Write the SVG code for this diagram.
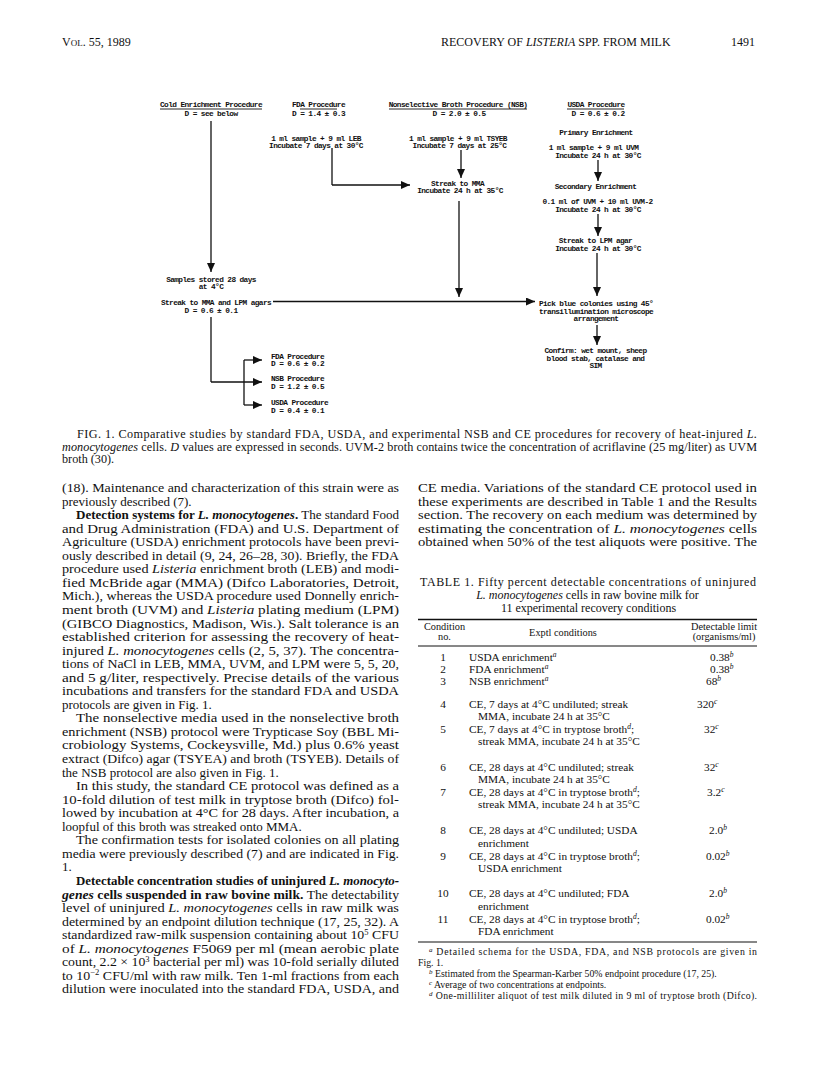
<svg xmlns="http://www.w3.org/2000/svg" width="816" height="1081" viewBox="0 0 816 1081">
<style>
.bg{fill:#fff}
.d{font-family:"Liberation Mono","DejaVu Sans Mono",monospace;font-weight:bold;font-size:7.8px;letter-spacing:-0.6px;fill:#111;text-anchor:middle}
.dl{text-anchor:start}
.ul{stroke:#111;stroke-width:0.9}
.c{stroke:#111;stroke-width:1.3;fill:none}
.ca{stroke:#111;stroke-width:1.3;fill:none;marker-end:url(#ah)}
.t{font-family:"Liberation Serif","Times New Roman",serif;font-size:13px;fill:#111}
.cap{font-family:"Liberation Serif","Times New Roman",serif;font-size:12.2px;fill:#111}
.tb{font-family:"Liberation Serif","Times New Roman",serif;font-size:11.3px;fill:#111}
.tt{font-family:"Liberation Serif","Times New Roman",serif;font-size:12px;fill:#111}
.th{font-family:"Liberation Serif","Times New Roman",serif;font-size:10.3px;fill:#111;text-anchor:middle}
.fn{font-family:"Liberation Serif","Times New Roman",serif;font-size:9.8px;fill:#111}
.hd{font-family:"Liberation Serif","Times New Roman",serif;font-size:12px;fill:#111}
.i{font-style:italic}
.bd{font-weight:bold}
.rule{stroke:#111}
</style>
<defs>
<marker id="ah" markerUnits="userSpaceOnUse" markerWidth="10" markerHeight="9" refX="9" refY="4" orient="auto">
<path d="M0,0 L9,4 L0,8 z" fill="#111"/>
</marker>
</defs>
<rect class="bg" x="0" y="0" width="816" height="1081"/>

<!-- running head -->
<g id="header">
<text class="hd" x="62" y="46">V<tspan font-size="9px">OL</tspan>. 55, 1989</text>
<text class="hd" x="441" y="46">RECOVERY OF <tspan class="i">LISTERIA</tspan> SPP. FROM MILK</text>
<text class="hd" x="731" y="46">1491</text>
</g>

<!-- connectors -->
<g id="connectors">
<path class="ca" d="M211,121 V272"/>
<path class="c" d="M211,317 V382"/>
<path class="ca" d="M211,382 H262"/>
<path class="c" d="M244,360 V405"/>
<path class="ca" d="M244,360 H262"/>
<path class="ca" d="M244,405 H262"/>
<path class="c" d="M332,148 V185"/>
<path class="ca" d="M332,185 H410"/>
<path class="ca" d="M461,150 V178"/>
<path class="ca" d="M459,201 V297"/>
<path class="ca" d="M273,301.5 H535"/>
<path class="ca" d="M598,160 V181"/>
<path class="ca" d="M598,214 V236"/>
<path class="ca" d="M597,253 V296"/>
<path class="ca" d="M597,325 V345"/>
</g>

<!-- diagram nodes -->
<g id="ce-title">
<text class="d" x="211" y="106.5">Cold Enrichment Procedure</text>
<line class="ul" x1="160" y1="109" x2="262" y2="109"/>
<text class="d" x="211" y="116">D = see below</text>
</g>
<g id="fda-title">
<text class="d" x="318.5" y="106.5">FDA Procedure</text>
<line class="ul" x1="300" y1="109" x2="337" y2="109"/>
<text class="d" x="318.5" y="116">D = 1.4 ± 0.3</text>
</g>
<g id="fda-step1">
<text class="d" x="316" y="140.5">1 ml sample + 9 ml LEB</text>
<text class="d" x="316" y="147.5">Incubate 7 days at 30°C</text>
</g>
<g id="nsb-title">
<text class="d" x="458" y="106.5">Nonselective Broth Procedure (NSB)</text>
<line class="ul" x1="389" y1="109" x2="527" y2="109"/>
<text class="d" x="459" y="116">D = 2.0 ± 0.5</text>
</g>
<g id="nsb-step1">
<text class="d" x="458" y="140.5">1 ml sample + 9 ml TSYEB</text>
<text class="d" x="459.5" y="147.5">Incubate 7 days at 25°C</text>
</g>
<g id="streak-mma">
<text class="d" x="457.5" y="185.5">Streak to MMA</text>
<text class="d" x="460" y="192.5">Incubate 24 h at 35°C</text>
</g>
<g id="usda-title">
<text class="d" x="596" y="106.5">USDA Procedure</text>
<line class="ul" x1="567" y1="109" x2="624" y2="109"/>
<text class="d" x="598" y="116">D = 0.6 ± 0.2</text>
</g>
<g id="usda-primary">
<text class="d" x="596" y="135">Primary Enrichment</text>
<text class="d" x="593.5" y="150">1 ml sample + 9 ml UVM</text>
<text class="d" x="598" y="157.5">Incubate 24 h at 30°C</text>
</g>
<g id="usda-secondary">
<text class="d" x="595.5" y="189">Secondary Enrichment</text>
<text class="d" x="597.5" y="204">0.1 ml of UVM + 10 ml UVM-2</text>
<text class="d" x="598" y="211.5">Incubate 24 h at 30°C</text>
</g>
<g id="streak-lpm">
<text class="d" x="595.5" y="243">Streak to LPM agar</text>
<text class="d" x="598" y="251">Incubate 24 h at 30°C</text>
</g>
<g id="ce-stored">
<text class="d" x="211" y="282">Samples stored 28 days</text>
<text class="d" x="211" y="289">at 4°C</text>
</g>
<g id="ce-streak">
<text class="d" x="216" y="304.5">Streak to MMA and LPM agars</text>
<text class="d" x="211" y="312.5">D = 0.6 ± 0.1</text>
</g>
<g id="pick">
<text class="d" x="596" y="305.5">Pick blue colonies using 45°</text>
<text class="d" x="596" y="313.5">transillumination microscope</text>
<text class="d" x="596" y="321">arrangement</text>
</g>
<g id="confirm">
<text class="d" x="595.5" y="352.5">Confirm:  wet mount, sheep</text>
<text class="d" x="595.5" y="360.5">blood stab, catalase and</text>
<text class="d" x="595.5" y="367.5">SIM</text>
</g>
<g id="ce-fda">
<text class="d dl" x="271" y="358.5">FDA Procedure</text>
<text class="d dl" x="271" y="366">D = 0.6 ± 0.2</text>
</g>
<g id="ce-nsb">
<text class="d dl" x="271" y="381">NSB Procedure</text>
<text class="d dl" x="271" y="389">D = 1.2 ± 0.5</text>
</g>
<g id="ce-usda">
<text class="d dl" x="271" y="404.5">USDA Procedure</text>
<text class="d dl" x="271" y="413">D = 0.4 ± 0.1</text>
</g>

<!-- caption -->
<text class="cap" x="77" y="438" textLength="680" lengthAdjust="spacing">FIG. 1. Comparative studies by standard FDA, USDA, and experimental NSB and CE procedures for recovery of heat-injured <tspan class="i">L.</tspan></text>
<text class="cap" x="62" y="450.5" textLength="695" lengthAdjust="spacing"><tspan class="i">monocytogenes</tspan> cells. <tspan class="i">D</tspan> values are expressed in seconds. UVM-2 broth contains twice the concentration of acriflavine (25 mg/liter) as UVM</text>
<text class="cap" x="62" y="463">broth (30).</text>

<!-- left column -->
<g id="left-column">
<text class="t" x="62" y="492" textLength="337" lengthAdjust="spacingAndGlyphs">(18). Maintenance and characterization of this strain were as</text>
<text class="t" x="62" y="505.5">previously described (7).</text>
<text class="t" x="76" y="519.1" textLength="323" lengthAdjust="spacingAndGlyphs"><tspan class="bd">Detection systems for <tspan class="i">L. monocytogenes</tspan>.</tspan> The standard Food</text>
<text class="t" x="62" y="532.6" textLength="337" lengthAdjust="spacingAndGlyphs">and Drug Administration (FDA) and U.S. Department of</text>
<text class="t" x="62" y="546.2" textLength="337" lengthAdjust="spacingAndGlyphs">Agriculture (USDA) enrichment protocols have been previ-</text>
<text class="t" x="62" y="559.7" textLength="337" lengthAdjust="spacingAndGlyphs">ously described in detail (9, 24, 26–28, 30). Briefly, the FDA</text>
<text class="t" x="62" y="573.3" textLength="337" lengthAdjust="spacingAndGlyphs">procedure used <tspan class="i">Listeria</tspan> enrichment broth (LEB) and modi-</text>
<text class="t" x="62" y="586.8" textLength="337" lengthAdjust="spacingAndGlyphs">fied McBride agar (MMA) (Difco Laboratories, Detroit,</text>
<text class="t" x="62" y="600.4" textLength="337" lengthAdjust="spacingAndGlyphs">Mich.), whereas the USDA procedure used Donnelly enrich-</text>
<text class="t" x="62" y="613.9" textLength="337" lengthAdjust="spacingAndGlyphs">ment broth (UVM) and <tspan class="i">Listeria</tspan> plating medium (LPM)</text>
<text class="t" x="62" y="627.5" textLength="337" lengthAdjust="spacingAndGlyphs">(GIBCO Diagnostics, Madison, Wis.). Salt tolerance is an</text>
<text class="t" x="62" y="641" textLength="337" lengthAdjust="spacingAndGlyphs">established criterion for assessing the recovery of heat-</text>
<text class="t" x="62" y="654.6" textLength="337" lengthAdjust="spacingAndGlyphs">injured <tspan class="i">L. monocytogenes</tspan> cells (2, 5, 37). The concentra-</text>
<text class="t" x="62" y="668.1" textLength="337" lengthAdjust="spacingAndGlyphs">tions of NaCl in LEB, MMA, UVM, and LPM were 5, 5, 20,</text>
<text class="t" x="62" y="681.7" textLength="337" lengthAdjust="spacingAndGlyphs">and 5 g/liter, respectively. Precise details of the various</text>
<text class="t" x="62" y="695.2" textLength="337" lengthAdjust="spacingAndGlyphs">incubations and transfers for the standard FDA and USDA</text>
<text class="t" x="62" y="708.8">protocols are given in Fig. 1.</text>
<text class="t" x="76" y="722.3" textLength="323" lengthAdjust="spacingAndGlyphs">The nonselective media used in the nonselective broth</text>
<text class="t" x="62" y="735.9" textLength="337" lengthAdjust="spacingAndGlyphs">enrichment (NSB) protocol were Trypticase Soy (BBL Mi-</text>
<text class="t" x="62" y="749.4" textLength="337" lengthAdjust="spacingAndGlyphs">crobiology Systems, Cockeysville, Md.) plus 0.6% yeast</text>
<text class="t" x="62" y="763" textLength="337" lengthAdjust="spacingAndGlyphs">extract (Difco) agar (TSYEA) and broth (TSYEB). Details of</text>
<text class="t" x="62" y="776.5">the NSB protocol are also given in Fig. 1.</text>
<text class="t" x="76" y="790.1" textLength="323" lengthAdjust="spacingAndGlyphs">In this study, the standard CE protocol was defined as a</text>
<text class="t" x="62" y="803.6" textLength="337" lengthAdjust="spacingAndGlyphs">10-fold dilution of test milk in tryptose broth (Difco) fol-</text>
<text class="t" x="62" y="817.2" textLength="337" lengthAdjust="spacingAndGlyphs">lowed by incubation at 4°C for 28 days. After incubation, a</text>
<text class="t" x="62" y="830.7">loopful of this broth was streaked onto MMA.</text>
<text class="t" x="76" y="844.3" textLength="323" lengthAdjust="spacingAndGlyphs">The confirmation tests for isolated colonies on all plating</text>
<text class="t" x="62" y="857.8" textLength="337" lengthAdjust="spacingAndGlyphs">media were previously described (7) and are indicated in Fig.</text>
<text class="t" x="62" y="871.4">1.</text>
<text class="t" x="76" y="884.9" textLength="323" lengthAdjust="spacingAndGlyphs"><tspan class="bd">Detectable concentration studies of uninjured <tspan class="i">L. monocyto-</tspan></tspan></text>
<text class="t" x="62" y="898.5" textLength="337" lengthAdjust="spacingAndGlyphs"><tspan class="bd"><tspan class="i">genes</tspan> cells suspended in raw bovine milk.</tspan> The detectability</text>
<text class="t" x="62" y="912" textLength="337" lengthAdjust="spacingAndGlyphs">level of uninjured <tspan class="i">L. monocytogenes</tspan> cells in raw milk was</text>
<text class="t" x="62" y="925.6" textLength="337" lengthAdjust="spacingAndGlyphs">determined by an endpoint dilution technique (17, 25, 32). A</text>
<text class="t" x="62" y="939.1" textLength="337" lengthAdjust="spacingAndGlyphs">standardized raw-milk suspension containing about 10<tspan font-size="8px" dy="-4.5">5</tspan><tspan dy="4.5"> CFU</tspan></text>
<text class="t" x="62" y="952.7" textLength="337" lengthAdjust="spacingAndGlyphs">of <tspan class="i">L. monocytogenes</tspan> F5069 per ml (mean aerobic plate</text>
<text class="t" x="62" y="966.2" textLength="337" lengthAdjust="spacingAndGlyphs">count, 2.2 × 10<tspan font-size="8px" dy="-4.5">3</tspan><tspan dy="4.5"> bacterial per ml) was 10-fold serially diluted</tspan></text>
<text class="t" x="62" y="979.8" textLength="337" lengthAdjust="spacingAndGlyphs">to 10<tspan font-size="8px" dy="-4.5">−2</tspan><tspan dy="4.5"> CFU/ml with raw milk. Ten 1-ml fractions from each</tspan></text>
<text class="t" x="62" y="993.3" textLength="337" lengthAdjust="spacingAndGlyphs">dilution were inoculated into the standard FDA, USDA, and</text>
</g>

<!-- right column -->
<g id="right-column">
<text class="t" x="418" y="492" textLength="339" lengthAdjust="spacingAndGlyphs">CE media. Variations of the standard CE protocol used in</text>
<text class="t" x="418" y="505.5" textLength="339" lengthAdjust="spacingAndGlyphs">these experiments are described in Table 1 and the Results</text>
<text class="t" x="418" y="519.1" textLength="339" lengthAdjust="spacingAndGlyphs">section. The recovery on each medium was determined by</text>
<text class="t" x="418" y="532.6" textLength="339" lengthAdjust="spacingAndGlyphs">estimating the concentration of <tspan class="i">L. monocytogenes</tspan> cells</text>
<text class="t" x="418" y="546.2" textLength="339" lengthAdjust="spacingAndGlyphs">obtained when 50% of the test aliquots were positive. The</text>
</g>

<!-- table -->
<g id="table1">
<text class="tt" x="420" y="586" textLength="336" lengthAdjust="spacing">TABLE 1. Fifty percent detectable concentrations of uninjured</text>
<text class="tt" x="587.5" y="599" text-anchor="middle"><tspan class="i">L. monocytogenes</tspan> cells in raw bovine milk for</text>
<text class="tt" x="588.5" y="612" text-anchor="middle">11 experimental recovery conditions</text>
<line class="rule" x1="418" y1="619.5" x2="757" y2="619.5" stroke-width="1.6"/>
<text class="th" x="444.5" y="630">Condition</text>
<text class="th" x="444.5" y="640">no.</text>
<text class="th" x="563" y="635.5">Exptl conditions</text>
<text class="th" x="724" y="630">Detectable limit</text>
<text class="th" x="724" y="640">(organisms/ml)</text>
<line class="rule" x1="418" y1="646" x2="757" y2="646" stroke-width="1"/>

<g class="tb">
<text x="443" y="661" text-anchor="middle">1</text>
<text x="469" y="661">USDA enrichment<tspan class="i" font-size="7.5px" dy="-4">a</tspan></text>
<text x="710" y="661">0.38<tspan class="i" font-size="7.5px" dy="-4">b</tspan></text>
<text x="443" y="673" text-anchor="middle">2</text>
<text x="469" y="673">FDA enrichment<tspan class="i" font-size="7.5px" dy="-4">a</tspan></text>
<text x="710" y="673">0.38<tspan class="i" font-size="7.5px" dy="-4">b</tspan></text>
<text x="443" y="685" text-anchor="middle">3</text>
<text x="469" y="685">NSB enrichment<tspan class="i" font-size="7.5px" dy="-4">a</tspan></text>
<text x="706" y="685">68<tspan class="i" font-size="7.5px" dy="-4">b</tspan></text>

<text x="443" y="708" text-anchor="middle">4</text>
<text x="469" y="708">CE, 7 days at 4°C undiluted; streak</text>
<text x="478" y="720">MMA, incubate 24 h at 35°C</text>
<text x="697" y="708">320<tspan class="i" font-size="7.5px" dy="-4">c</tspan></text>
<text x="443" y="733" text-anchor="middle">5</text>
<text x="469" y="733">CE, 7 days at 4°C in tryptose broth<tspan class="i" font-size="7.5px" dy="-4">d</tspan><tspan dy="4">;</tspan></text>
<text x="478" y="745">streak MMA, incubate 24 h at 35°C</text>
<text x="704" y="733">32<tspan class="i" font-size="7.5px" dy="-4">c</tspan></text>

<text x="443" y="771" text-anchor="middle">6</text>
<text x="469" y="771">CE, 28 days at 4°C undiluted; streak</text>
<text x="478" y="783">MMA, incubate 24 h at 35°C</text>
<text x="704" y="771">32<tspan class="i" font-size="7.5px" dy="-4">c</tspan></text>
<text x="443" y="796" text-anchor="middle">7</text>
<text x="469" y="796">CE, 28 days at 4°C in tryptose broth<tspan class="i" font-size="7.5px" dy="-4">d</tspan><tspan dy="4">;</tspan></text>
<text x="478" y="808">streak MMA, incubate 24 h at 35°C</text>
<text x="707" y="796">3.2<tspan class="i" font-size="7.5px" dy="-4">c</tspan></text>

<text x="443" y="834" text-anchor="middle">8</text>
<text x="469" y="834">CE, 28 days at 4°C undiluted; USDA</text>
<text x="478" y="847">enrichment</text>
<text x="709" y="834">2.0<tspan class="i" font-size="7.5px" dy="-4">b</tspan></text>
<text x="443" y="860" text-anchor="middle">9</text>
<text x="469" y="860">CE, 28 days at 4°C in tryptose broth<tspan class="i" font-size="7.5px" dy="-4">d</tspan><tspan dy="4">;</tspan></text>
<text x="478" y="872">USDA enrichment</text>
<text x="706" y="860">0.02<tspan class="i" font-size="7.5px" dy="-4">b</tspan></text>

<text x="443" y="897" text-anchor="middle">10</text>
<text x="469" y="897">CE, 28 days at 4°C undiluted; FDA</text>
<text x="478" y="910">enrichment</text>
<text x="709" y="897">2.0<tspan class="i" font-size="7.5px" dy="-4">b</tspan></text>
<text x="443" y="923" text-anchor="middle">11</text>
<text x="469" y="923">CE, 28 days at 4°C in tryptose broth<tspan class="i" font-size="7.5px" dy="-4">d</tspan><tspan dy="4">;</tspan></text>
<text x="478" y="935">FDA enrichment</text>
<text x="706" y="923">0.02<tspan class="i" font-size="7.5px" dy="-4">b</tspan></text>
</g>
<line class="rule" x1="418" y1="942" x2="757" y2="942" stroke-width="1.2"/>

<text class="fn" x="429" y="955" textLength="328" lengthAdjust="spacing"><tspan class="i" font-size="7px" dy="-3">a</tspan><tspan dy="3"> Detailed schema for the USDA, FDA, and NSB protocols are given in</tspan></text>
<text class="fn" x="418" y="966">Fig. 1.</text>
<text class="fn" x="429" y="977"><tspan class="i" font-size="7px" dy="-3">b</tspan><tspan dy="3"> Estimated from the Spearman-Karber 50% endpoint procedure (17, 25).</tspan></text>
<text class="fn" x="429" y="988"><tspan class="i" font-size="7px" dy="-3">c</tspan><tspan dy="3"> Average of two concentrations at endpoints.</tspan></text>
<text class="fn" x="429" y="998.5" textLength="328" lengthAdjust="spacing"><tspan class="i" font-size="7px" dy="-3">d</tspan><tspan dy="3"> One-milliliter aliquot of test milk diluted in 9 ml of tryptose broth (Difco).</tspan></text>
</g>
</svg>
